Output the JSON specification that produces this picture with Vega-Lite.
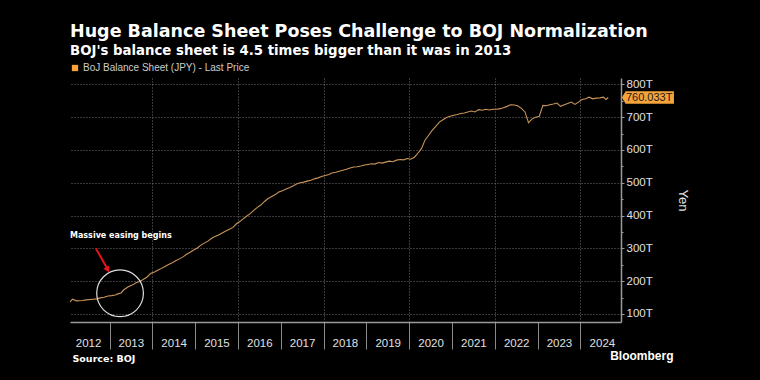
{
  "$schema": "https://vega.github.io/schema/vega-lite/v6.json",
  "width": 551,
  "height": 244,
  "autosize": {"type": "none"},
  "padding": {"left": 70, "top": 78, "right": 139, "bottom": 58},
  "background": "#000000",
  "config": {"view": {"stroke": null}},
  "title": {
    "text": "Huge Balance Sheet Poses Challenge to BOJ Normalization",
    "subtitle": "BOJ's balance sheet is 4.5 times bigger than it was in 2013",
    "anchor": "start",
    "frame": "group",
    "font": "DejaVu Sans",
    "fontSize": 17.5,
    "fontWeight": "bold",
    "color": "#ffffff",
    "subtitleFont": "DejaVu Sans",
    "subtitleFontSize": 13.3,
    "subtitleFontWeight": "bold",
    "subtitleColor": "#ffffff",
    "subtitlePadding": 3,
    "offset": 6
  },
  "datasets": {
    "one": [{}],
    "bs": [
      {"date": "2012-01-31", "value": 137},
      {"date": "2012-02-20", "value": 145},
      {"date": "2012-03-25", "value": 140},
      {"date": "2012-05-15", "value": 141},
      {"date": "2012-06-15", "value": 143},
      {"date": "2012-08-15", "value": 145},
      {"date": "2012-09-15", "value": 146},
      {"date": "2012-10-15", "value": 149},
      {"date": "2012-11-15", "value": 151},
      {"date": "2012-12-20", "value": 155},
      {"date": "2013-01-20", "value": 156},
      {"date": "2013-02-20", "value": 158},
      {"date": "2013-03-20", "value": 162},
      {"date": "2013-04-10", "value": 164},
      {"date": "2013-05-01", "value": 173},
      {"date": "2013-06-10", "value": 183},
      {"date": "2013-07-15", "value": 188},
      {"date": "2013-08-15", "value": 195},
      {"date": "2013-09-15", "value": 199},
      {"date": "2013-10-15", "value": 205},
      {"date": "2013-11-15", "value": 212},
      {"date": "2013-12-20", "value": 224},
      {"date": "2014-01-20", "value": 228},
      {"date": "2014-02-20", "value": 234},
      {"date": "2014-03-20", "value": 239},
      {"date": "2014-04-20", "value": 245},
      {"date": "2014-05-20", "value": 251},
      {"date": "2014-06-20", "value": 256},
      {"date": "2014-07-20", "value": 262},
      {"date": "2014-08-20", "value": 268},
      {"date": "2014-09-20", "value": 274},
      {"date": "2014-10-20", "value": 282},
      {"date": "2014-11-20", "value": 288},
      {"date": "2014-12-20", "value": 295},
      {"date": "2015-01-20", "value": 301},
      {"date": "2015-02-20", "value": 310},
      {"date": "2015-03-20", "value": 316},
      {"date": "2015-04-20", "value": 322},
      {"date": "2015-05-20", "value": 330},
      {"date": "2015-06-20", "value": 336},
      {"date": "2015-07-20", "value": 341},
      {"date": "2015-08-20", "value": 347},
      {"date": "2015-09-20", "value": 353},
      {"date": "2015-10-20", "value": 358},
      {"date": "2015-11-20", "value": 364},
      {"date": "2015-12-20", "value": 375},
      {"date": "2016-01-15", "value": 381},
      {"date": "2016-02-15", "value": 390},
      {"date": "2016-03-15", "value": 398},
      {"date": "2016-04-15", "value": 406},
      {"date": "2016-05-15", "value": 416},
      {"date": "2016-06-15", "value": 425},
      {"date": "2016-07-15", "value": 432},
      {"date": "2016-08-15", "value": 443},
      {"date": "2016-09-15", "value": 452},
      {"date": "2016-10-15", "value": 458},
      {"date": "2016-11-15", "value": 464},
      {"date": "2016-12-15", "value": 472},
      {"date": "2017-01-15", "value": 476},
      {"date": "2017-02-15", "value": 481},
      {"date": "2017-03-15", "value": 485},
      {"date": "2017-04-15", "value": 490},
      {"date": "2017-05-15", "value": 496},
      {"date": "2017-06-15", "value": 500},
      {"date": "2017-07-15", "value": 502},
      {"date": "2017-08-15", "value": 505},
      {"date": "2017-09-15", "value": 508},
      {"date": "2017-10-15", "value": 512},
      {"date": "2017-11-15", "value": 515},
      {"date": "2017-12-15", "value": 519},
      {"date": "2018-01-15", "value": 522},
      {"date": "2018-02-15", "value": 525},
      {"date": "2018-03-15", "value": 530},
      {"date": "2018-04-15", "value": 532},
      {"date": "2018-05-15", "value": 535},
      {"date": "2018-06-15", "value": 538},
      {"date": "2018-07-15", "value": 541},
      {"date": "2018-08-15", "value": 545},
      {"date": "2018-09-15", "value": 548},
      {"date": "2018-10-15", "value": 549},
      {"date": "2018-11-15", "value": 551},
      {"date": "2018-12-15", "value": 554},
      {"date": "2019-01-15", "value": 556},
      {"date": "2019-02-15", "value": 558},
      {"date": "2019-03-15", "value": 557},
      {"date": "2019-04-15", "value": 562},
      {"date": "2019-05-15", "value": 560},
      {"date": "2019-06-15", "value": 563},
      {"date": "2019-07-15", "value": 566},
      {"date": "2019-08-15", "value": 564},
      {"date": "2019-09-15", "value": 569},
      {"date": "2019-10-15", "value": 571},
      {"date": "2019-11-15", "value": 570},
      {"date": "2019-12-15", "value": 574},
      {"date": "2020-01-15", "value": 572},
      {"date": "2020-02-15", "value": 578},
      {"date": "2020-03-15", "value": 590},
      {"date": "2020-04-15", "value": 604},
      {"date": "2020-05-15", "value": 630},
      {"date": "2020-06-15", "value": 645},
      {"date": "2020-07-15", "value": 660},
      {"date": "2020-08-15", "value": 672},
      {"date": "2020-09-15", "value": 685},
      {"date": "2020-10-15", "value": 692},
      {"date": "2020-11-15", "value": 699},
      {"date": "2020-12-15", "value": 703},
      {"date": "2021-01-15", "value": 706},
      {"date": "2021-02-15", "value": 708},
      {"date": "2021-03-15", "value": 711},
      {"date": "2021-04-15", "value": 713},
      {"date": "2021-05-15", "value": 716},
      {"date": "2021-06-15", "value": 719},
      {"date": "2021-07-15", "value": 716},
      {"date": "2021-08-15", "value": 723},
      {"date": "2021-09-15", "value": 721},
      {"date": "2021-10-15", "value": 724},
      {"date": "2021-11-15", "value": 722},
      {"date": "2021-12-15", "value": 724},
      {"date": "2022-01-15", "value": 724},
      {"date": "2022-02-15", "value": 726},
      {"date": "2022-03-15", "value": 729},
      {"date": "2022-04-15", "value": 733},
      {"date": "2022-05-15", "value": 738},
      {"date": "2022-06-15", "value": 737},
      {"date": "2022-07-15", "value": 735},
      {"date": "2022-08-15", "value": 727},
      {"date": "2022-09-15", "value": 716},
      {"date": "2022-10-15", "value": 683},
      {"date": "2022-11-15", "value": 695},
      {"date": "2022-12-15", "value": 700},
      {"date": "2023-01-15", "value": 703},
      {"date": "2023-02-15", "value": 736},
      {"date": "2023-03-15", "value": 735},
      {"date": "2023-04-15", "value": 738},
      {"date": "2023-05-15", "value": 740},
      {"date": "2023-06-15", "value": 743},
      {"date": "2023-07-15", "value": 733},
      {"date": "2023-08-15", "value": 738},
      {"date": "2023-09-15", "value": 742},
      {"date": "2023-10-15", "value": 746},
      {"date": "2023-11-15", "value": 739},
      {"date": "2023-12-15", "value": 746},
      {"date": "2024-01-15", "value": 754},
      {"date": "2024-02-15", "value": 756},
      {"date": "2024-03-15", "value": 761},
      {"date": "2024-04-15", "value": 756},
      {"date": "2024-05-15", "value": 758},
      {"date": "2024-06-15", "value": 759},
      {"date": "2024-07-15", "value": 761},
      {"date": "2024-08-05", "value": 754},
      {"date": "2024-08-25", "value": 760.033}
    ]
  },
  "resolve": {"axis": {"x": "independent", "y": "independent"}},
  "layer": [
    {
      "data": {"name": "one"},
      "mark": {"type": "rule", "opacity": 0},
      "encoding": {
        "x": {
          "datum": {"year": 2014, "month": 1, "date": 1, "utc": true}, "type": "temporal",
          "scale": {"type": "utc", "domain": [{"year": 2012, "month": 1, "date": 30, "utc": true}, {"year": 2024, "month": 12, "date": 12, "utc": true}]},
          "axis": {
            "orient": "bottom",
            "values": [
              {"year": 2014, "month": 1, "date": 1, "utc": true},
              {"year": 2016, "month": 1, "date": 1, "utc": true},
              {"year": 2018, "month": 1, "date": 1, "utc": true},
              {"year": 2020, "month": 1, "date": 1, "utc": true},
              {"year": 2022, "month": 1, "date": 1, "utc": true},
              {"year": 2024, "month": 1, "date": 1, "utc": true}
            ],
            "labels": false,
            "ticks": false,
            "domain": false,
            "grid": true,
            "gridColor": "#707070",
            "gridDash": [1, 2],
            "gridWidth": 1,
            "title": null
          }
        }
      }
    },
    {
      "data": {"name": "bs"},
      "mark": {"type": "line", "strokeWidth": 1.1, "interpolate": "linear"},
      "encoding": {
        "x": {
          "field": "date", "type": "temporal",
          "scale": {"type": "utc", "domain": [{"year": 2012, "month": 1, "date": 30, "utc": true}, {"year": 2024, "month": 12, "date": 12, "utc": true}]},
          "axis": {
            "orient": "bottom",
            "values": [
              {"year": 2013, "month": 1, "date": 1, "utc": true},
              {"year": 2014, "month": 1, "date": 1, "utc": true},
              {"year": 2015, "month": 1, "date": 1, "utc": true},
              {"year": 2016, "month": 1, "date": 1, "utc": true},
              {"year": 2017, "month": 1, "date": 1, "utc": true},
              {"year": 2018, "month": 1, "date": 1, "utc": true},
              {"year": 2019, "month": 1, "date": 1, "utc": true},
              {"year": 2020, "month": 1, "date": 1, "utc": true},
              {"year": 2021, "month": 1, "date": 1, "utc": true},
              {"year": 2022, "month": 1, "date": 1, "utc": true},
              {"year": 2023, "month": 1, "date": 1, "utc": true},
              {"year": 2024, "month": 1, "date": 1, "utc": true}
            ],
            "labels": false,
            "tickSize": 27,
            "tickColor": "#8a8a8a",
            "tickWidth": 1,
            "domainColor": "#9a9a9a",
            "domainWidth": 1.5,
            "grid": false,
            "title": "Source: BOJ",
            "titleFont": "DejaVu Sans",
            "titleFontSize": 9.5,
            "titleFontWeight": "bold",
            "titleColor": "#ffffff",
            "titleAnchor": "start",
            "titleAlign": "left",
            "titleBaseline": "alphabetic",
            "titleX": 2,
            "titleY": 39
          }
        },
        "y": {
          "field": "value", "type": "quantitative",
          "scale": {"domain": [75.5, 819.5], "nice": false, "zero": false},
          "axis": {
            "orient": "right",
            "values": [100, 200, 300, 400, 500, 600, 700, 800],
            "labelExpr": "datum.value + 'T'",
            "tickSize": 3,
            "tickColor": "#9a9a9a",
            "domainColor": "#9a9a9a",
            "domainWidth": 1.5,
            "labelPadding": 2,
            "labelFont": "Liberation Sans",
            "labelFontSize": 11.5,
            "labelColor": "#e0e0e0",
            "grid": true,
            "gridColor": "#707070",
            "gridDash": [1, 2],
            "gridWidth": 1,
            "title": "Yen",
            "titleAngle": 90,
            "titleX": 61,
            "titleY": 122,
            "titleAlign": "center",
            "titleBaseline": "middle",
            "titleFont": "Liberation Sans",
            "titleFontSize": 13,
            "titleFontWeight": "normal",
            "titleColor": "#e0e0e0"
          }
        },
        "color": {
          "datum": "BoJ Balance Sheet (JPY) - Last Price",
          "type": "nominal",
          "scale": {"range": ["#c99558"]},
          "legend": {
            "orient": "top",
            "title": null,
            "padding": 0,
            "offset": 5,
            "symbolType": "square",
            "symbolSize": 40,
            "symbolFillColor": "#f6a33b",
            "symbolStrokeColor": "#f6a33b",
            "symbolStrokeWidth": 0,
            "labelFont": "Liberation Sans",
            "labelFontSize": 10,
            "labelColor": "#cccccc",
            "labelOffset": 3,
            "labelLimit": 400
          }
        }
      }
    },
    {
      "data": {"name": "one"},
      "mark": {"type": "point", "shape": "circle", "size": 2180, "filled": false, "stroke": "#dddddd", "strokeWidth": 1.2, "opacity": 1},
      "encoding": {
        "x": {
          "datum": {"year": 2013, "month": 4, "date": 1, "utc": true}, "type": "temporal",
          "scale": {"type": "utc", "domain": [{"year": 2012, "month": 1, "date": 30, "utc": true}, {"year": 2024, "month": 12, "date": 12, "utc": true}]},
          "axis": {
            "orient": "bottom",
            "values": [
              {"year": 2012, "month": 7, "date": 2, "utc": true},
              {"year": 2013, "month": 7, "date": 2, "utc": true},
              {"year": 2014, "month": 7, "date": 2, "utc": true},
              {"year": 2015, "month": 7, "date": 2, "utc": true},
              {"year": 2016, "month": 7, "date": 2, "utc": true},
              {"year": 2017, "month": 7, "date": 2, "utc": true},
              {"year": 2018, "month": 7, "date": 2, "utc": true},
              {"year": 2019, "month": 7, "date": 2, "utc": true},
              {"year": 2020, "month": 7, "date": 2, "utc": true},
              {"year": 2021, "month": 7, "date": 2, "utc": true},
              {"year": 2022, "month": 7, "date": 2, "utc": true},
              {"year": 2023, "month": 7, "date": 2, "utc": true},
              {"year": 2024, "month": 7, "date": 2, "utc": true}
            ],
            "format": "%Y",
            "ticks": false,
            "domain": false,
            "grid": false,
            "labelFlush": false,
            "labelOverlap": false,
            "labelFont": "Liberation Sans",
            "labelFontSize": 11.5,
            "labelColor": "#e0e0e0",
            "labelPadding": 15,
            "title": "Bloomberg",
            "titleFont": "Liberation Sans",
            "titleFontSize": 12,
            "titleFontWeight": "bold",
            "titleColor": "#ffffff",
            "titleAnchor": "end",
            "titleAlign": "right",
            "titleBaseline": "alphabetic",
            "titleX": 603,
            "titleY": 37.5
          }
        },
        "y": {
          "datum": 163, "type": "quantitative",
          "scale": {"domain": [75.5, 819.5], "nice": false, "zero": false},
          "axis": {
            "orient": "right",
            "values": [150, 250, 350, 450, 550, 650, 750],
            "labels": false,
            "tickSize": 2,
            "tickColor": "#9a9a9a",
            "domain": false,
            "grid": false,
            "title": null
          }
        }
      }
    },
    {
      "data": {"name": "one"},
      "mark": {"type": "rule", "color": "#e8141c", "strokeWidth": 2},
      "encoding": {
        "x": {"datum": {"year": 2012, "month": 9, "date": 6, "utc": true}, "type": "temporal", "axis": null,
              "scale": {"type": "utc", "domain": [{"year": 2012, "month": 1, "date": 30, "utc": true}, {"year": 2024, "month": 12, "date": 12, "utc": true}]}},
        "y": {"datum": 300, "type": "quantitative", "axis": null, "scale": {"domain": [75.5, 819.5], "nice": false, "zero": false}},
        "x2": {"datum": {"year": 2012, "month": 12, "date": 14, "utc": true}},
        "y2": {"datum": 238}
      }
    },
    {
      "data": {"name": "one"},
      "mark": {"type": "point", "shape": "triangle-up", "size": 45, "filled": true, "color": "#e8141c", "opacity": 1, "angle": 151},
      "encoding": {
        "x": {"datum": {"year": 2012, "month": 12, "date": 16, "utc": true}, "type": "temporal", "axis": null,
              "scale": {"type": "utc", "domain": [{"year": 2012, "month": 1, "date": 30, "utc": true}, {"year": 2024, "month": 12, "date": 12, "utc": true}]}},
        "y": {"datum": 235, "type": "quantitative", "axis": null, "scale": {"domain": [75.5, 819.5], "nice": false, "zero": false}}
      }
    },
    {
      "data": {"name": "one"},
      "mark": {"type": "text", "text": "Massive easing begins", "align": "left", "baseline": "alphabetic", "font": "DejaVu Sans", "fontSize": 8, "fontWeight": "bold", "color": "#ffffff"},
      "encoding": {
        "x": {"datum": {"year": 2012, "month": 1, "date": 30, "utc": true}, "type": "temporal", "axis": null,
              "scale": {"type": "utc", "domain": [{"year": 2012, "month": 1, "date": 30, "utc": true}, {"year": 2024, "month": 12, "date": 12, "utc": true}]}},
        "y": {"datum": 333, "type": "quantitative", "axis": null, "scale": {"domain": [75.5, 819.5], "nice": false, "zero": false}}
      }
    },
    {
      "data": {"name": "one"},
      "mark": {"type": "point", "shape": "M0,0L0.07,-0.12L1,-0.12L1,0.12L0.07,0.12Z", "size": 10816, "filled": true, "color": "#f6a33b", "opacity": 1, "strokeWidth": 0},
      "encoding": {
        "x": {"datum": {"year": 2024, "month": 12, "date": 20, "utc": true}, "type": "temporal", "axis": null,
              "scale": {"type": "utc", "domain": [{"year": 2012, "month": 1, "date": 30, "utc": true}, {"year": 2024, "month": 12, "date": 12, "utc": true}]}},
        "y": {"datum": 760.033, "type": "quantitative", "axis": null, "scale": {"domain": [75.5, 819.5], "nice": false, "zero": false}}
      }
    },
    {
      "data": {"name": "one"},
      "mark": {"type": "text", "text": "760.033T", "align": "left", "baseline": "middle", "dx": 4, "font": "Liberation Sans", "fontSize": 11, "color": "#1a1a1a"},
      "encoding": {
        "x": {"datum": {"year": 2024, "month": 12, "date": 20, "utc": true}, "type": "temporal", "axis": null,
              "scale": {"type": "utc", "domain": [{"year": 2012, "month": 1, "date": 30, "utc": true}, {"year": 2024, "month": 12, "date": 12, "utc": true}]}},
        "y": {"datum": 760.033, "type": "quantitative", "axis": null, "scale": {"domain": [75.5, 819.5], "nice": false, "zero": false}}
      }
    }
  ]
}
